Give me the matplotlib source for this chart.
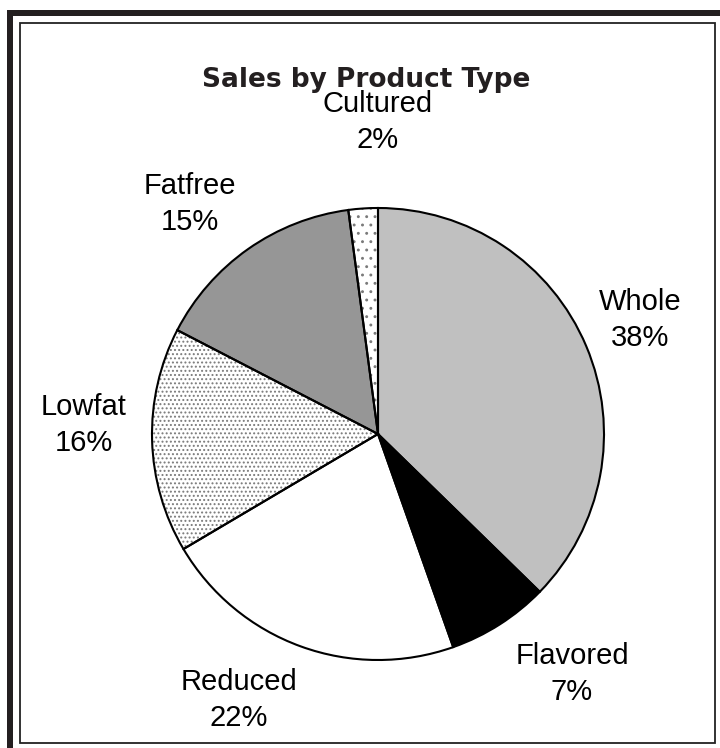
import matplotlib
matplotlib.use("Agg")
import matplotlib.pyplot as plt
from matplotlib.patches import Rectangle

# Data
categories = ["Whole", "Flavored", "Reduced", "Lowfat", "Fatfree", "Cultured"]
share = [37.3, 7.3, 21.9, 16.1, 15.3, 2.1]          # slice sizes
label_pct = [38, 7, 22, 16, 15, 2]                   # printed percentages
colors = ["#c0c0c0", "#000000", "#ffffff", "#ffffff", "#969696", "#ffffff"]
hatches = ["", "", "", "....", "", ".."]
title = "Sales by Product Type"

# Layout (pixel offsets of label centres from the pie centre, y up)
label_offsets = [(262, 114), (194, -240), (-139, -266), (-294, 9), (-188, 230), (0, 312)]

W, H = 720, 748
fig = plt.figure(figsize=(W / 100, H / 100), dpi=100)
fig.patch.set_facecolor("white")

# Frame: thick dark bars top & left, thin inner rectangle
fig.patches.append(Rectangle((7 / W, 0), 6 / W, (H - 10) / H, transform=fig.transFigure,
                             facecolor="#231f20", edgecolor="none", zorder=0))
fig.patches.append(Rectangle((7 / W, (H - 16) / H), (W - 7) / W, 6 / H, transform=fig.transFigure,
                             facecolor="#231f20", edgecolor="none", zorder=0))
fig.patches.append(Rectangle((19.5 / W, (H - 743) / H), (714.5 - 19.5) / W, (743 - 22.5) / H,
                             transform=fig.transFigure, facecolor="none",
                             edgecolor="#222222", linewidth=1.3, zorder=0))

# Pie axes
cx, cy, R, half = 378, 434, 226, 300
ax = fig.add_axes([(cx - half) / W, (H - cy - half) / H, 2 * half / W, 2 * half / H])
lim = half / R
ax.axis("off")

plt.rcParams["hatch.linewidth"] = 0.9
ax.pie(share, colors=colors, hatch=hatches, startangle=90, counterclock=False,
       radius=1.0, wedgeprops=dict(edgecolor="#7a7a7a", linewidth=0))
_, texts = ax.pie(share, colors=["none"] * len(share), startangle=90, counterclock=False,
                  radius=1.0, labels=[f"{c}\n{p}%" for c, p in zip(categories, label_pct)],
                  wedgeprops=dict(edgecolor="black", linewidth=1.5),
                  textprops=dict(ha="center", va="center", multialignment="center",
                                 fontsize=21, family="Liberation Sans", color="black",
                                 linespacing=1.4))
for t, (dx, dy) in zip(texts, label_offsets):
    t.set_position((dx / R, dy / R))
ax.set_xlim(-lim, lim)
ax.set_ylim(-lim, lim)
ax.set_aspect("equal")

fig.text(366 / W, 1 - 80 / H, title, ha="center", va="center", fontsize=19,
         fontweight="bold", family="DejaVu Sans", color="#231f20")

fig.savefig("out.png", dpi=100)
